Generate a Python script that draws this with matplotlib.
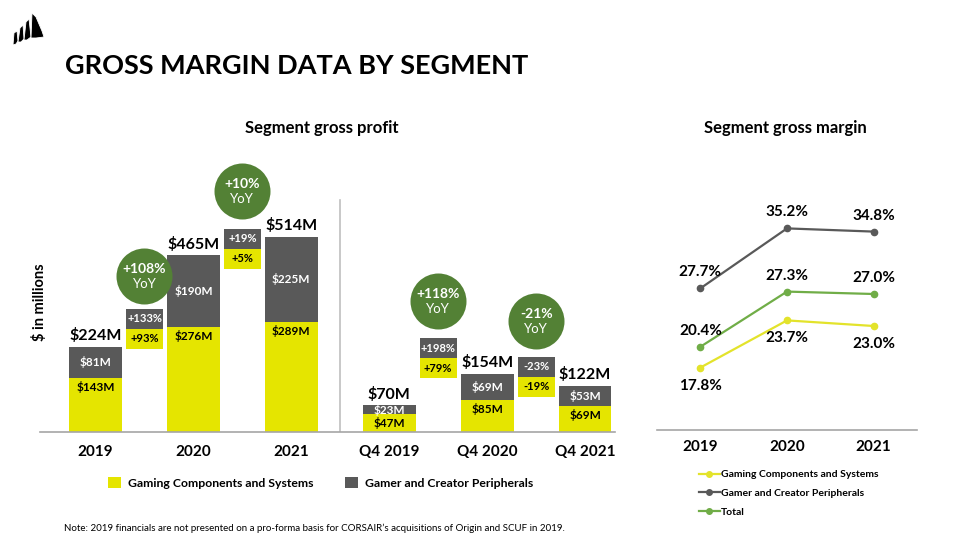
import matplotlib
matplotlib.use("Agg")
import matplotlib.pyplot as plt
from matplotlib.patches import Patch, Polygon, Rectangle
from matplotlib.lines import Line2D

plt.rcParams['font.family'] = ['Lato', 'DejaVu Sans']

# ---------------- data ----------------
bar_categories = ['2019', '2020', '2021', 'Q4 2019', 'Q4 2020', 'Q4 2021']
gaming_profit = [143, 276, 289, 47, 85, 69]
peripheral_profit = [81, 190, 225, 23, 69, 53]
total_profit = [224, 465, 514, 70, 154, 122]

yoy_total = ['+108%', '+10%', '+118%', '-21%']
yoy_peripheral = ['+133%', '+19%', '+198%', '-23%']
yoy_gaming = ['+93%', '+5%', '+79%', '-19%']

margin_years = ['2019', '2020', '2021']
margin_gaming = [17.8, 23.7, 23.0]
margin_peripheral = [27.7, 35.2, 34.8]
margin_total = [20.4, 27.3, 27.0]

# ---------------- style ----------------
YELLOW = '#E5E500'
GRAY = '#595959'
GREEN_DARK = '#538135'
LINE_YELLOW = '#E3E32B'
LINE_GREEN = '#70AD47'
AXIS_GRAY = '#A6A6A6'

W, H = 960, 540
fig = plt.figure(figsize=(9.6, 5.4), dpi=100)


def fx(px):
    return px / W


def fy(py):
    return 1 - py / H


# logo (decorative sails over a curved hull)
sails = [
    [(13, 45), (14, 33), (17, 31), (18, 41), (16, 44)],
    [(18, 42), (20, 28), (23, 25), (24, 39), (21, 42)],
    [(24, 40), (26, 22), (29, 19), (31, 37), (27, 40)],
    [(31, 38), (32, 13), (36, 17), (39, 24), (42, 31), (44, 37), (36, 38)],
]
for pts in sails:
    fig.patches.append(Polygon([(fx(a), fy(b)) for a, b in pts], closed=True,
                               transform=fig.transFigure, facecolor='black',
                               edgecolor='white', linewidth=0.6))

# title and subtitles
fig.text(fx(65), fy(66), 'GROSS MARGIN DATA BY SEGMENT', fontsize=19.5,
         fontweight='bold', va='center', ha='left')
fig.text(fx(322), fy(128), 'Segment gross profit', fontsize=12,
         fontweight='bold', va='center', ha='center')
fig.text(fx(785), fy(128), 'Segment gross margin', fontsize=12,
         fontweight='bold', va='center', ha='center')
fig.text(fx(40), fy(302), '$ in millions', fontsize=10.5, fontweight='bold',
         rotation=90, va='center', ha='center')
fig.text(fx(64), fy(528),
         'Note: 2019 financials are not presented on a pro-forma basis for '
         'CORSAIR\u2019s acquisitions of Origin and SCUF in 2019.',
         fontsize=7.0, va='center', ha='left')

# ---------------- bar chart ----------------
ax = fig.add_axes([fx(40), fy(432), (615 - 40) / W, (432 - 100) / H])
ax.set_xlim(-0.567, 5.306)
ax.set_ylim(0, 874)
pxy = 332 / 874  # pixels per $M

x = list(range(len(bar_categories)))
bw = 0.54
ax.bar(x, gaming_profit, width=bw, color=YELLOW, zorder=2)
ax.bar(x, peripheral_profit, width=bw, bottom=gaming_profit, color=GRAY, zorder=2)

for i in x:
    ax.annotate(f'${total_profit[i]}M', (i, gaming_profit[i] + peripheral_profit[i]),
                xytext=(0, 2.5), textcoords='offset points', ha='center',
                va='bottom', fontsize=11.5, fontweight='bold')
    ax.annotate(f'${gaming_profit[i]}M', (i, gaming_profit[i]),
                xytext=(0, -6.5), textcoords='offset points', ha='center',
                va='center', fontsize=8.5, fontweight='bold', color='black', zorder=3)
    ax.annotate(f'${peripheral_profit[i]}M',
                (i, gaming_profit[i] + peripheral_profit[i] / 2),
                ha='center', va='center', fontsize=8.5, fontweight='bold',
                color='white', zorder=3)

# change boxes between bars (layout positions)
change_x = [0.5, 1.5, 3.5, 4.5]
box_base_px = [349, 269, 378, 397]
circle_px = [276, 191, 301, 321]
box_w = 37 / 97.9
box_h = 20 / pxy
for k, cxp in enumerate(change_x):
    base = (432 - box_base_px[k]) / pxy
    ax.add_patch(Rectangle((cxp - box_w / 2, base), box_w, box_h,
                           facecolor=YELLOW, edgecolor='none', zorder=2))
    ax.add_patch(Rectangle((cxp - box_w / 2, base + box_h), box_w, box_h,
                           facecolor=GRAY, edgecolor='none', zorder=2))
    ax.text(cxp, base + box_h / 2, yoy_gaming[k], ha='center', va='center',
            fontsize=8, fontweight='bold', color='black', zorder=3)
    ax.text(cxp, base + 1.5 * box_h, yoy_peripheral[k], ha='center', va='center',
            fontsize=8, fontweight='bold', color='white', zorder=3)
    cy = (432 - circle_px[k]) / pxy
    ax.scatter([cxp], [cy], s=(56 * 0.72) ** 2, color=GREEN_DARK, zorder=2,
               clip_on=False, linewidths=0)
    ax.annotate(yoy_total[k], (cxp, cy), xytext=(0, 5), textcoords='offset points',
                ha='center', va='center', fontsize=10, fontweight='bold',
                color='white', zorder=3)
    ax.annotate('YoY', (cxp, cy), xytext=(0, -6), textcoords='offset points',
                ha='center', va='center', fontsize=9.5, color='white', zorder=3)

# separator between annual and quarterly
ax.plot([2.5, 2.5], [0, (432 - 200) / pxy], color='#BFBFBF', lw=1.2, zorder=1)

ax.set_xticks(x)
ax.set_xticklabels(bar_categories, fontsize=11, fontweight='bold')
ax.tick_params(axis='x', length=0, pad=9)
ax.set_yticks([])
for s in ['top', 'left', 'right']:
    ax.spines[s].set_visible(False)
ax.spines['bottom'].set_color(AXIS_GRAY)
ax.spines['bottom'].set_linewidth(1.2)
ax.spines['bottom'].set_zorder(4)

bar_handles = [Patch(facecolor=YELLOW, label='Gaming Components and Systems'),
               Patch(facecolor=GRAY, label='Gamer and Creator Peripherals')]
ax.legend(handles=bar_handles, loc='upper left', bbox_to_anchor=(fx(108), fy(477)),
          bbox_transform=fig.transFigure, ncol=2, frameon=False,
          prop={'size': 8.8, 'weight': 'bold'}, handlelength=1.07,
          handleheight=1.07, handletextpad=0.57, columnspacing=2.6,
          borderpad=0, borderaxespad=0)

# ---------------- line chart ----------------
ax2 = fig.add_axes([fx(657), fy(430), (917 - 657) / W, 240 / H])
ax2.set_xlim(-0.5, 2.5)
ax2.set_ylim(10, 40)
xl = list(range(len(margin_years)))
series = [(margin_gaming, LINE_YELLOW, 'Gaming Components and Systems', -13),
          (margin_peripheral, GRAY, 'Gamer and Creator Peripherals', 11.5),
          (margin_total, LINE_GREEN, 'Total', 11.5)]
handles = []
for vals, col, lab, off in series:
    ax2.plot(xl, vals, color=col, lw=1.6, marker='o', markersize=4.5, zorder=3)
    handles.append(Line2D([], [], color=col, lw=1.6, marker='o', markersize=4,
                          label=lab))
    for i, v in zip(xl, vals):
        ax2.annotate(f'{v:.1f}%', (i, v), xytext=(0, off), textcoords='offset points',
                     ha='center', va='center', fontsize=11, fontweight='bold')

ax2.set_xticks(xl)
ax2.set_xticklabels(margin_years, fontsize=11, fontweight='bold')
ax2.tick_params(axis='x', length=0, pad=7)
ax2.set_yticks([])
for s in ['top', 'left', 'right']:
    ax2.spines[s].set_visible(False)
ax2.spines['bottom'].set_color(AXIS_GRAY)
ax2.spines['bottom'].set_linewidth(1.2)

ax2.legend(handles=handles, loc='upper left', bbox_to_anchor=(fx(699), fy(470)),
           bbox_transform=fig.transFigure, frameon=False,
           prop={'size': 7.5, 'weight': 'bold'}, handlelength=2.0,
           handletextpad=0.1, labelspacing=0.9, borderpad=0, borderaxespad=0)

fig.savefig('out.png', dpi=100)
